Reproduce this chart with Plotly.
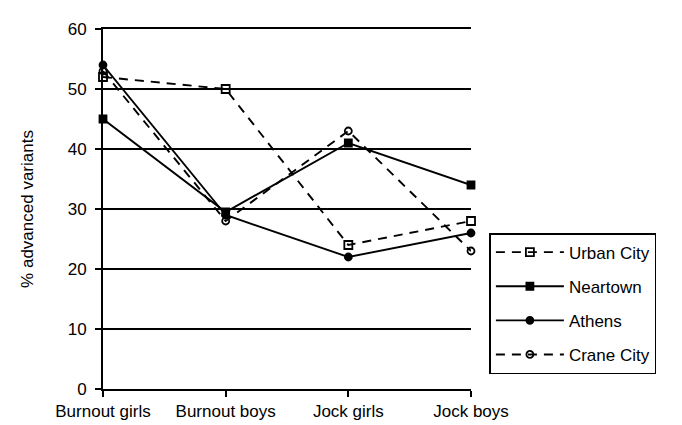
import plotly.graph_objects as go

categories = ["Burnout girls", "Burnout boys", "Jock girls", "Jock boys"]
urban_city = [52, 50, 24, 28]
neartown = [45, 29.5, 41, 34]
athens = [54, 29, 22, 26]
crane_city = [53, 28, 43, 23]
y_ticks = [0, 10, 20, 30, 40, 50, 60]

FONT = "Liberation Sans, Arial, sans-serif"

series = [
    ("Urban City", urban_city, "9px,7px", "square-open", 8),
    ("Neartown", neartown, "solid", "square", 7),
    ("Athens", athens, "solid", "circle", 7),
    ("Crane City", crane_city, "9px,7px", "circle-open", 7),
]

fig = go.Figure()
for i, (name, vals, dash, sym, size) in enumerate(series):
    fig.add_trace(go.Scatter(
        x=categories, y=vals, name=name, mode="lines+markers",
        line=dict(color="black", width=1.9, dash=dash),
        marker=dict(symbol=sym, size=size, color="black",
                    line=dict(color="black", width=1.8)),
        cliponaxis=False, legendgroup=f"g{i}",
    ))

fig.update_layout(
    width=682, height=425,
    margin=dict(l=95, r=219, t=16, b=37),
    paper_bgcolor="white", plot_bgcolor="white",
    font=dict(family=FONT, size=17, color="black"),
    showlegend=True,
    legend=dict(
        x=1.05, y=0.433, xanchor="left", yanchor="top",
        bordercolor="black", borderwidth=1.5, bgcolor="white",
        font=dict(family=FONT, size=17, color="black"),
        tracegroupgap=9, itemwidth=68,
    ),
    xaxis=dict(
        type="category", range=[0, 3],
        showgrid=False, showline=True, linecolor="black", linewidth=1.9,
        mirror=True,
        ticks="outside", ticklen=6, tickwidth=1.5, tickcolor="black",
        tickfont=dict(family=FONT, size=17), zeroline=False,
    ),
    yaxis=dict(
        range=[0, 60], tickvals=y_ticks,
        showgrid=True, gridcolor="black", gridwidth=1.9,
        showline=True, linecolor="black", linewidth=1.9,
        ticks="outside", ticklen=6, tickwidth=1.5, tickcolor="black",
        ticklabelstandoff=5,
        tickfont=dict(family=FONT, size=17), zeroline=False,
        title=dict(text="% advanced variants", font=dict(family=FONT, size=17), standoff=30),
    ),
)

fig.write_html("out.html")
